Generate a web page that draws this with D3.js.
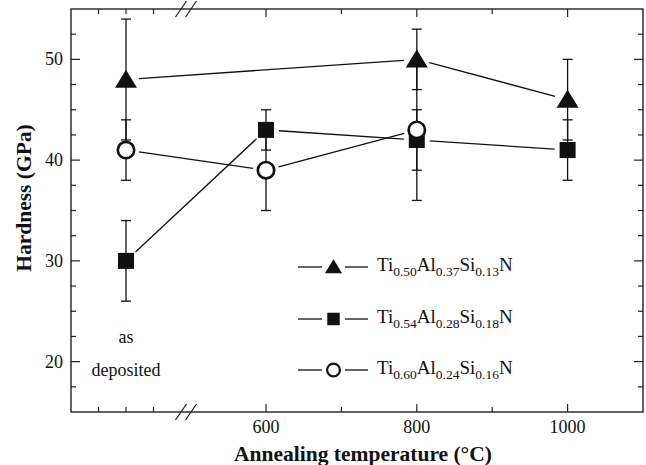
<!DOCTYPE html>
<html>
<head>
<meta charset="utf-8">
<script src="https://cdn.jsdelivr.net/npm/d3@7"></script>
<style>
  html, body { margin: 0; padding: 0; background: #fff; }
  svg { display: block; }
</style>
</head>
<body>
<svg id="chart" width="646" height="465"></svg>
<script>
// Hardness of Ti-Al-Si-N coatings versus annealing temperature.
// The as-deposited state sits on its own short segment of the broken x axis.

// Ti0.50Al0.37Si0.13N (filled triangles)
const tempsTri    = ["as deposited", 800, 1000];
const hardnessTri = [48, 50, 46];
const errorTri    = [6, 3, 4];

// Ti0.54Al0.28Si0.18N (filled squares)
const tempsSq     = ["as deposited", 600, 800, 1000];
const hardnessSq  = [30, 43, 42, 41];
const errorSq     = [4, 2, 3, 3];

// Ti0.60Al0.24Si0.16N (open circles)
const tempsCi     = ["as deposited", 600, 800];
const hardnessCi  = [41, 39, 43];
const errorCi     = [3, 4, 7];

// Legend formulas as [element, subscript] pairs
const formulaTri = [["Ti", "0.50"], ["Al", "0.37"], ["Si", "0.13"], ["N", ""]];
const formulaSq  = [["Ti", "0.54"], ["Al", "0.28"], ["Si", "0.18"], ["N", ""]];
const formulaCi  = [["Ti", "0.60"], ["Al", "0.24"], ["Si", "0.16"], ["N", ""]];

const yMajorTicks = [20, 30, 40, 50];
const yMinorTicks = [17.5, 22.5, 25, 27.5, 32.5, 35, 37.5, 42.5, 45, 47.5, 52.5];
const xMajorTicks = [600, 800, 1000];
const xMinorTicks = [700, 900];
const leftSegmentTicks = [1, 2, 3];

const FONT = '"Liberation Serif"';
const svg = d3.select("#chart");
const L = 71, R = 643, T = 9, B = 412;
const breakX = 186;
const ink = "#111";

const y = d3.scaleLinear().domain([15, 55]).range([B, T]);
const xLeft = d3.scaleLinear().domain([0, 4]).range([L, 181]);
const xT = d3.scaleLinear().domain([600, 1100]).range([266, R]);
const xPos = c => c === "as deposited" ? xLeft(2) : xT(c);

const series = [
  { temps: tempsTri, vals: hardnessTri, errs: errorTri, shape: "tri", formula: formulaTri },
  { temps: tempsSq,  vals: hardnessSq,  errs: errorSq,  shape: "sq",  formula: formulaSq },
  { temps: tempsCi,  vals: hardnessCi,  errs: errorCi,  shape: "ci",  formula: formulaCi }
];

// frame with mirrored inward ticks
const frame = svg.append("g").attr("stroke", "#222");
frame.append("rect").attr("x", L).attr("y", T).attr("width", R - L).attr("height", B - T)
  .attr("fill", "none").attr("stroke-width", 1.4);

function yTick(v, len) {
  frame.append("line").attr("x1", L).attr("x2", L + len).attr("y1", y(v)).attr("y2", y(v)).attr("stroke-width", 1.2);
  frame.append("line").attr("x1", R).attr("x2", R - len).attr("y1", y(v)).attr("y2", y(v)).attr("stroke-width", 1.2);
}
function xTick(px, len) {
  frame.append("line").attr("x1", px).attr("x2", px).attr("y1", B).attr("y2", B - len).attr("stroke-width", 1.2);
  frame.append("line").attr("x1", px).attr("x2", px).attr("y1", T).attr("y2", T + len).attr("stroke-width", 1.2);
}
yMajorTicks.forEach(v => yTick(v, 9));
yMinorTicks.forEach(v => yTick(v, 5));
xMajorTicks.forEach(v => xTick(xT(v), 8));
xMinorTicks.forEach(v => xTick(xT(v), 5));
leftSegmentTicks.forEach(v => xTick(xLeft(v), 5));

// axis break marks
[B, T].forEach(yy => {
  [-5, 5].forEach(dx => {
    frame.append("line")
      .attr("x1", breakX + dx - 5.5).attr("y1", yy + 8)
      .attr("x2", breakX + dx + 5.5).attr("y2", yy - 8)
      .attr("stroke-width", 1.3);
  });
});

function label(g) {
  return g.append("text").style("font-family", FONT).attr("fill", ink);
}

// tick labels
yMajorTicks.forEach(d => label(svg).attr("x", L - 8).attr("y", y(d) + 6)
  .attr("text-anchor", "end").attr("font-size", 18).text(d));
xMajorTicks.forEach(d => label(svg).attr("x", xT(d)).attr("y", 433)
  .attr("text-anchor", "middle").attr("font-size", 18).text(d));

// axis titles
label(svg).attr("x", 363).attr("y", 461).attr("text-anchor", "middle")
  .attr("font-size", 21.5).attr("font-weight", "bold").text("Annealing temperature (°C)");
label(svg).attr("transform", "translate(31,198) rotate(-90)").attr("text-anchor", "middle")
  .attr("font-size", 21.5).attr("font-weight", "bold").text("Hardness (GPa)");

// as-deposited note
label(svg).attr("x", xLeft(2)).attr("y", 343).attr("text-anchor", "middle").attr("font-size", 18).text("as");
label(svg).attr("x", xLeft(2)).attr("y", 376).attr("text-anchor", "middle").attr("font-size", 18).text("deposited");

function drawMarker(g, shape, cx, cy, s) {
  if (shape === "tri") {
    const w = 22 * s, h = 18 * s;
    g.append("path").attr("d", `M${cx - w / 2},${cy + h * 0.45}L${cx + w / 2},${cy + h * 0.45}L${cx},${cy - h * 0.55}Z`).attr("fill", ink);
  } else if (shape === "sq") {
    const w = 16 * s;
    g.append("rect").attr("x", cx - w / 2).attr("y", cy - w / 2).attr("width", w).attr("height", w).attr("fill", ink);
  } else {
    g.append("circle").attr("cx", cx).attr("cy", cy).attr("r", 8.2 * s).attr("fill", "#fff")
      .attr("stroke", ink).attr("stroke-width", 2.6 * Math.max(s, 0.85));
  }
}

// error bars
const eb = svg.append("g").attr("stroke", ink).attr("stroke-width", 1.3);
series.forEach(s => {
  s.temps.forEach((t, i) => {
    const cx = xPos(t), lo = y(s.vals[i] - s.errs[i]), hi = y(s.vals[i] + s.errs[i]);
    eb.append("line").attr("x1", cx).attr("x2", cx).attr("y1", lo).attr("y2", hi);
    [lo, hi].forEach(yy => eb.append("line").attr("x1", cx - 5).attr("x2", cx + 5).attr("y1", yy).attr("y2", yy));
  });
});

// connecting lines, stopping short of the markers
const gap = 13;
const lines = svg.append("g").attr("stroke", ink).attr("stroke-width", 1.3);
series.forEach(s => {
  for (let i = 0; i < s.temps.length - 1; i++) {
    const x1 = xPos(s.temps[i]), y1 = y(s.vals[i]), x2 = xPos(s.temps[i + 1]), y2 = y(s.vals[i + 1]);
    const len = Math.hypot(x2 - x1, y2 - y1), ux = (x2 - x1) / len, uy = (y2 - y1) / len;
    lines.append("line")
      .attr("x1", x1 + ux * gap).attr("y1", y1 + uy * gap)
      .attr("x2", x2 - ux * gap).attr("y2", y2 - uy * gap);
  }
});

// markers
const marks = svg.append("g");
series.forEach(s => s.temps.forEach((t, i) => drawMarker(marks, s.shape, xPos(t), y(s.vals[i]), 1)));

// legend
const legendRows = [267, 319, 370];
const leg = svg.append("g");
series.forEach((s, k) => {
  const yy = legendRows[k];
  leg.append("line").attr("x1", 298).attr("x2", 322).attr("y1", yy).attr("y2", yy).attr("stroke", ink).attr("stroke-width", 1.3);
  leg.append("line").attr("x1", 345).attr("x2", 368).attr("y1", yy).attr("y2", yy).attr("stroke", ink).attr("stroke-width", 1.3);
  drawMarker(leg, s.shape, 333.5, yy, 0.78);
  const txt = label(leg).attr("x", 377).attr("y", yy + 4).attr("font-size", 19);
  let lowered = false;
  s.formula.forEach(([el, sub]) => {
    txt.append("tspan").attr("dy", lowered ? -5 : 0).text(el);
    lowered = false;
    if (sub) {
      txt.append("tspan").attr("font-size", 13.5).attr("dy", 5).text(sub);
      lowered = true;
    }
  });
});
</script>
</body>
</html>
